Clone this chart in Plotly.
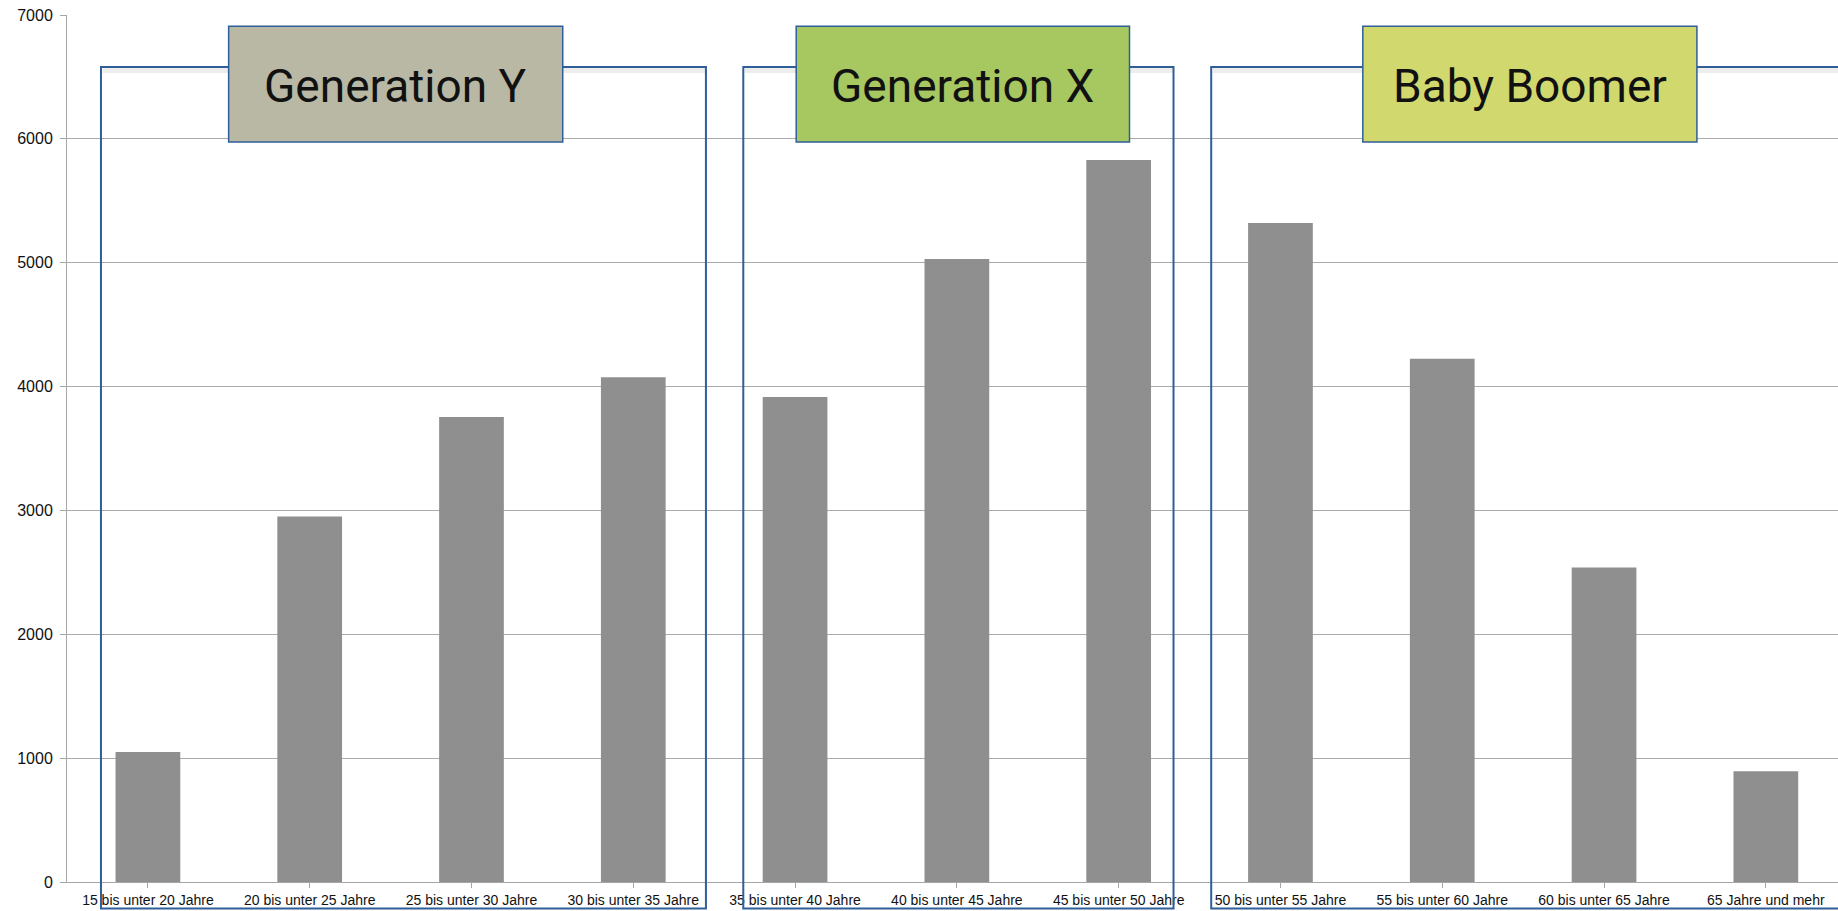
import plotly.graph_objects as go

# ---- data ----
categories = [
    "15 bis unter 20 Jahre", "20 bis unter 25 Jahre", "25 bis unter 30 Jahre",
    "30 bis unter 35 Jahre", "35 bis unter 40 Jahre", "40 bis unter 45 Jahre",
    "45 bis unter 50 Jahre", "50 bis unter 55 Jahre", "55 bis unter 60 Jahre",
    "60 bis unter 65 Jahre", "65 Jahre und mehr",
]
values = [1050, 2950, 3755, 4075, 3915, 5030, 5830, 5320, 4225, 2540, 895]
y_ticks = [0, 1000, 2000, 3000, 4000, 5000, 6000, 7000]
group_names = ["Generation Y", "Generation X", "Baby Boomer"]

# ---- layout constants (category units / paper units) ----
outline_boxes = [(-0.29, 3.449), (3.68, 6.339), (6.572, 11.5)]
label_boxes = [(0.499, 2.564), (4.007, 6.067), (7.509, 9.574)]
label_fills = ["#b8b8a4", "#a7c761", "#d0d86e"]
box_top, box_bottom = 0.940, -0.0306
label_top, label_bottom = 0.987, 0.8535
blue = "#2f5f98"

idx = list(range(len(categories)))

fig = go.Figure()
fig.add_trace(go.Bar(
    x=idx, y=values, width=0.4,
    marker=dict(color="#8f8f8f", line=dict(width=0)),
    hoverinfo="x+y",
))

shapes = []
# shadows under top lines of the outline boxes
for (x0, x1) in outline_boxes:
    shapes.append(dict(type="line", xref="x", yref="paper", x0=x0 + 0.01, x1=x1,
                       y0=box_top - 0.004, y1=box_top - 0.004,
                       line=dict(color="rgba(0,0,0,0.07)", width=5), layer="above"))
for (x0, x1) in outline_boxes:
    shapes.append(dict(type="rect", xref="x", yref="paper", x0=x0, x1=x1,
                       y0=box_bottom, y1=box_top,
                       line=dict(color=blue, width=2), fillcolor="rgba(0,0,0,0)",
                       layer="above"))
for (x0, x1), fc in zip(label_boxes, label_fills):
    shapes.append(dict(type="rect", xref="x", yref="paper", x0=x0, x1=x1,
                       y0=label_bottom, y1=label_top,
                       line=dict(color=blue, width=1.5), fillcolor=fc,
                       layer="above"))

annotations = []
for (x0, x1), name in zip(label_boxes, group_names):
    annotations.append(dict(
        x=(x0 + x1) / 2, y=(label_top + label_bottom) / 2 - 0.002,
        xref="x", yref="paper", text=name, showarrow=False,
        font=dict(family="Roboto", size=46, color="#111111"),
        xanchor="center", yanchor="middle",
    ))

fig.update_layout(
    width=1838, height=911,
    margin=dict(l=67, r=0, t=15, b=29),
    paper_bgcolor="white", plot_bgcolor="white",
    showlegend=False,
    shapes=shapes, annotations=annotations,
    font=dict(family="Liberation Sans, Arial, sans-serif", color="#111111"),
    xaxis=dict(
        range=[-0.5, 10.446],
        tickmode="array", tickvals=idx, ticktext=categories,
        tickfont=dict(size=14, family="Liberation Sans, Arial, sans-serif", color="#111111"),
        showgrid=False, zeroline=False,
        showline=True, linecolor="#a6a6a6", linewidth=1,
        ticks="outside", ticklen=5, tickcolor="#a6a6a6",
        tickson="boundaries",
        fixedrange=True,
    ),
    yaxis=dict(
        range=[0, 7000],
        tickmode="array", tickvals=y_ticks, ticktext=[str(v) for v in y_ticks],
        tickfont=dict(size=16, family="Liberation Sans, Arial, sans-serif", color="#111111"),
        showgrid=True, gridcolor="#ababab", gridwidth=1,
        zeroline=False,
        showline=True, linecolor="#a6a6a6", linewidth=1,
        ticks="outside", ticklen=6, tickcolor="#a6a6a6",
        ticklabelstandoff=4,
        fixedrange=True,
    ),
)

fig.write_html("out.html", config={"displayModeBar": False})
